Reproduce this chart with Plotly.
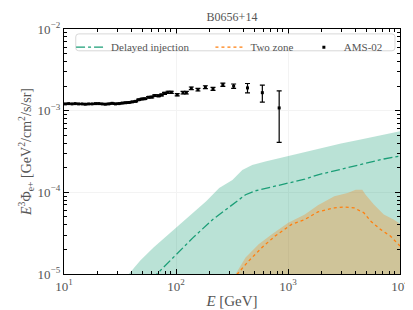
import plotly.graph_objects as go

# AMS-02 positron data (E^3 Phi)
ams_E = [10.3, 11.0, 11.8, 12.6, 13.5, 14.5, 15.5, 16.6, 17.8, 19.1, 20.4, 21.9, 23.4, 25.1,
         26.9, 28.8, 30.9, 33.1, 35.5, 38.0, 40.7, 43.6, 46.5, 49.7, 52.7, 56.9, 60.7, 64.6,
         69.8, 74.2, 79.0, 85.0, 90.9, 102.5, 115.6, 123.7, 137, 157, 183, 214, 262, 327,
         435, 590, 834]
ams_v = [1.21e-3, 1.22e-3, 1.21e-3, 1.22e-3, 1.21e-3, 1.21e-3, 1.20e-3, 1.21e-3, 1.21e-3,
         1.22e-3, 1.22e-3, 1.21e-3, 1.20e-3, 1.21e-3, 1.23e-3, 1.21e-3, 1.22e-3, 1.24e-3,
         1.25e-3, 1.26e-3, 1.28e-3, 1.30e-3, 1.36e-3, 1.39e-3, 1.40e-3, 1.46e-3, 1.47e-3,
         1.53e-3, 1.52e-3, 1.56e-3, 1.63e-3, 1.68e-3, 1.68e-3, 1.57e-3, 1.66e-3, 1.66e-3,
         1.88e-3, 1.81e-3, 1.94e-3, 1.85e-3, 2.08e-3, 2.00e-3, 1.90e-3, 1.66e-3, 1.08e-3]
ams_err = [0.012e-3, 0.012e-3, 0.012e-3, 0.012e-3, 0.012e-3, 0.012e-3, 0.012e-3, 0.013e-3,
           0.013e-3, 0.013e-3, 0.014e-3, 0.014e-3, 0.014e-3, 0.015e-3, 0.016e-3, 0.016e-3,
           0.017e-3, 0.018e-3, 0.019e-3, 0.02e-3, 0.021e-3, 0.022e-3, 0.024e-3, 0.026e-3,
           0.027e-3, 0.03e-3, 0.032e-3, 0.035e-3, 0.037e-3, 0.04e-3, 0.044e-3, 0.048e-3,
           0.05e-3, 0.05e-3, 0.06e-3, 0.06e-3, 0.07e-3, 0.07e-3, 0.08e-3, 0.08e-3, 0.1e-3,
           0.12e-3, 0.25e-3, 0.39e-3, 0.67e-3]

# Delayed injection: band upper edge and central line
di_band_E = [33, 37.9, 48.0, 63.0, 82.4, 108, 142, 186, 243, 319, 391, 479, 627, 822, 1153,
             1982, 2972, 4458, 6690, 10000]
di_band_hi = [8.0e-6, 1.0e-5, 1.46e-5, 2.11e-5, 2.92e-5, 4.05e-5, 5.61e-5, 7.78e-5, 1.13e-4,
              1.42e-4, 1.88e-4, 2.16e-4, 2.38e-4, 2.61e-4, 2.92e-4, 3.45e-4, 3.97e-4,
              4.44e-4, 5.0e-4, 5.6e-4]
di_band_lo = [1e-6] * len(di_band_E)
di_E = [60, 67.3, 94.4, 142, 213, 319, 418, 512, 822, 1413, 1850, 3640, 7160, 10000]
di_v = [8.5e-6, 1.0e-5, 1.59e-5, 2.79e-5, 4.65e-5, 7.07e-5, 9.35e-5, 1.045e-4, 1.216e-4,
        1.45e-4, 1.64e-4, 2.07e-4, 2.56e-4, 2.78e-4]

# Two zone: band upper edge and central line
tz_band_E = [320, 341, 418, 547, 718, 1006, 1413, 1850, 2594, 3398, 4027, 4604, 4932, 5842,
             7160, 8770, 10000]
tz_band_hi = [8.5e-6, 1.0e-5, 1.59e-5, 2.31e-5, 3.06e-5, 4.24e-5, 5.35e-5, 6.95e-5, 8.93e-5,
              9.81e-5, 1.076e-4, 1.076e-4, 9.35e-5, 7.08e-5, 5.35e-5, 4.65e-5, 4.12e-5]
tz_band_lo = [1e-6] * len(tz_band_E)
tz_E = [330, 353, 447, 586, 767, 1078, 1413, 1850, 2594, 3177, 3890, 4764, 5458, 6690, 8200,
        10000]
tz_v = [8.5e-6, 1.0e-5, 1.45e-5, 2.11e-5, 2.92e-5, 4.05e-5, 4.65e-5, 5.77e-5, 6.45e-5,
        6.63e-5, 6.45e-5, 5.61e-5, 4.45e-5, 3.52e-5, 2.92e-5, 2.2e-5]

x_tickvals = [10, 100, 1000, 10000]
x_ticktext = ["10<sup>1</sup>", "10<sup>2</sup>", "10<sup>3</sup>", "10<sup>4</sup>"]
y_tickvals = [1e-5, 1e-4, 1e-3, 1e-2]
y_ticktext = ["10<sup>−5</sup>", "10<sup>−4</sup>", "10<sup>−3</sup>", "10<sup>−2</sup>"]

GREEN = "#1b9e77"
ORANGE = "#ff7f0e"
FONT = "Liberation Serif"
GREY = "#555555"
NB = "\u00a0"

fig = go.Figure()
fig.add_trace(go.Scatter(x=di_band_E, y=di_band_lo, mode="lines", line=dict(width=0),
                         showlegend=False, hoverinfo="skip"))
fig.add_trace(go.Scatter(x=di_band_E, y=di_band_hi, mode="lines", line=dict(width=0),
                         fill="tonexty", fillcolor="rgba(27,158,119,0.3)",
                         showlegend=False, hoverinfo="skip"))
fig.add_trace(go.Scatter(x=di_E, y=di_v, mode="lines", name="Delayed injection" + NB * 6,
                         legendrank=1, line=dict(color=GREEN, width=1.3, dash="dashdot")))
fig.add_trace(go.Scatter(x=tz_band_E, y=tz_band_lo, mode="lines", line=dict(width=0),
                         showlegend=False, hoverinfo="skip"))
fig.add_trace(go.Scatter(x=tz_band_E, y=tz_band_hi, mode="lines", line=dict(width=0),
                         fill="tonexty", fillcolor="rgba(255,127,14,0.3)",
                         showlegend=False, hoverinfo="skip"))
fig.add_trace(go.Scatter(x=tz_E, y=tz_v, mode="lines", name="Two zone" + NB * 2, legendrank=2,
                         line=dict(color=ORANGE, width=1.3, dash="dot")))
fig.add_trace(go.Scatter(x=ams_E, y=ams_v, mode="markers", name="AMS-02", legendrank=3,
                         marker=dict(color="black", size=3, symbol="square"),
                         error_y=dict(type="data", array=ams_err, color="black",
                                      thickness=1.2, width=2.5)))

x_minor = [m * 10 ** d for d in range(1, 4) for m in range(2, 10)]
y_minor = [m * 10.0 ** d for d in range(-5, -2) for m in range(2, 10)]


def axis_style(minor_vals):
    return dict(type="log", showline=True, linecolor="black", linewidth=1.2, mirror="allticks",
                ticks="inside", ticklen=5, tickcolor="black",
                showgrid=True, gridcolor="#f3f3f3", gridwidth=1, zeroline=False,
                tickfont=dict(family=FONT, size=13, color=GREY),
                minor=dict(tickmode="array", tickvals=minor_vals, ticks="inside", ticklen=2.5,
                           tickcolor="black", showgrid=False))


# rounded legend frame (paper coordinates)
x0, x1, y0, y1 = 0.035, 0.985, 0.911, 0.98
rx, ry = 0.009, 0.012
frame_path = (f"M {x0+rx},{y0} L {x1-rx},{y0} Q {x1},{y0} {x1},{y0+ry} "
              f"L {x1},{y1-ry} Q {x1},{y1} {x1-rx},{y1} L {x0+rx},{y1} "
              f"Q {x0},{y1} {x0},{y1-ry} L {x0},{y0+ry} Q {x0},{y0} {x0+rx},{y0} Z")

fig.update_layout(
    width=413, height=310,
    margin=dict(l=56, r=17, t=20, b=43),
    paper_bgcolor="white", plot_bgcolor="white",
    title=dict(text="B0656+14", x=0.5, xanchor="center", xref="paper", y=0.985, yanchor="top",
               font=dict(family=FONT, size=12, color=GREY)),
    xaxis=dict(axis_style(x_minor), range=[1, 4], tickvals=x_tickvals, ticktext=x_ticktext,
               title=dict(text="<i>E</i> [GeV]", font=dict(family=FONT, size=15, color=GREY),
                          standoff=2)),
    yaxis=dict(axis_style(y_minor), range=[-5, -2], tickvals=y_tickvals, ticktext=y_ticktext,
               title=dict(text="<i>E</i><sup>3</sup>Φ<sub>e+</sub> [GeV<sup>2</sup>/cm<sup>2</sup>/s/sr]",
                          font=dict(family=FONT, size=14, color=GREY), standoff=2)),
    shapes=[dict(type="path", xref="paper", yref="paper", path=frame_path,
                 fillcolor="rgba(255,255,255,0.85)", line=dict(color="#d8d8d8", width=1),
                 layer="above")],
    legend=dict(orientation="h", x=0.021, y=0.985, xanchor="left", yanchor="top",
                bgcolor="rgba(0,0,0,0)", borderwidth=0,
                font=dict(family=FONT, size=11, color=GREY), traceorder="normal",
                itemwidth=30, tracegroupgap=0),
)

fig.write_html("out.html")
